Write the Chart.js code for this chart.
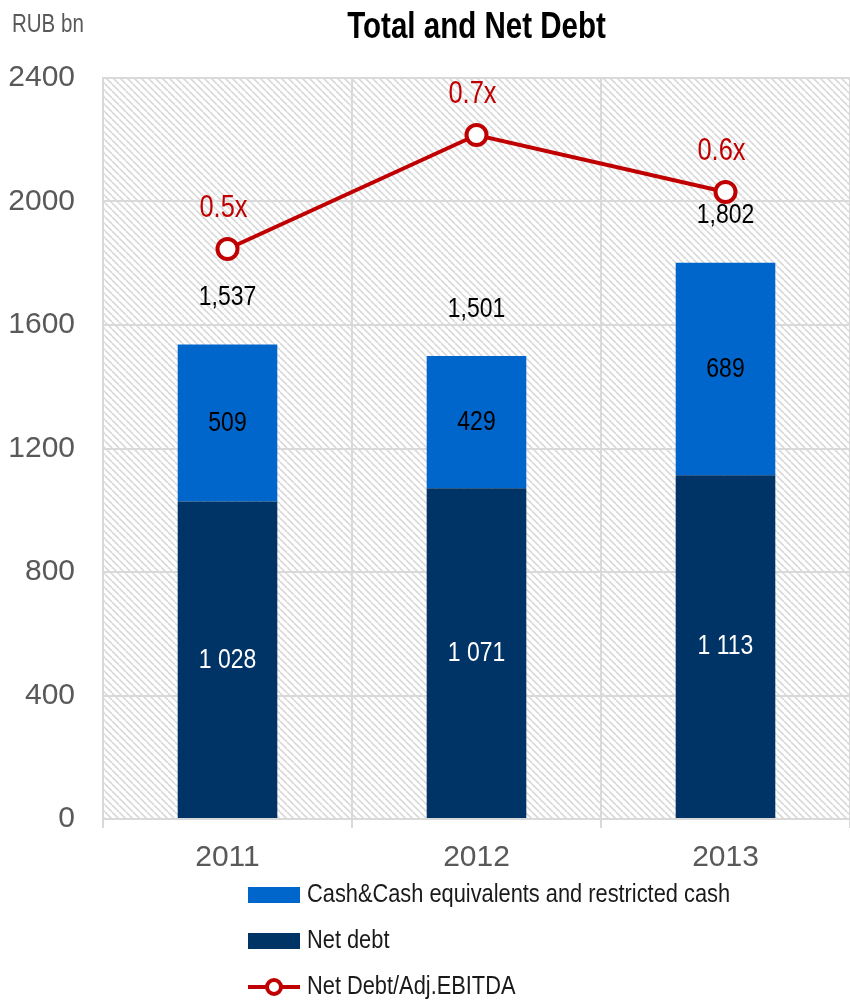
<!DOCTYPE html>
<html>
<head>
<meta charset="utf-8">
<script src="https://cdn.jsdelivr.net/npm/chart.js@4.4.0/dist/chart.umd.min.js"></script>
<style>
  body { margin: 0; background: #fff; }
  #wrap { width: 850px; height: 1000px; position: relative; }
</style>
</head>
<body>
<div id="wrap"><canvas id="grafica" width="850" height="1000"></canvas></div>
<script>
// Datos
const years = ["2011", "2012", "2013"];
const netDebt = [1028, 1071, 1113];
const cash = [509, 429, 689];
const totals = [1537, 1501, 1802];
const ratio = [0.5, 0.7, 0.6];
const yTicks = [0, 400, 800, 1200, 1600, 2000, 2400];

const FONT = "'Liberation Sans', Arial, sans-serif";
const RED = "#c00000";

// Texto estrecho (tipo Arial Narrow)
function texto(ctx, str, x, y, font, color, align) {
  ctx.save();
  ctx.translate(x, y);
  ctx.scale(0.82, 1);
  ctx.font = font;
  ctx.fillStyle = color;
  ctx.textAlign = align || "center";
  ctx.textBaseline = "middle";
  ctx.fillText(str, 0, 0);
  ctx.restore();
}

// Patrón rayado del fondo
function crearRayado() {
  const s = 7;
  const c = document.createElement("canvas");
  c.width = s; c.height = s;
  const g = c.getContext("2d");
  g.fillStyle = "#fff";
  g.fillRect(0, 0, s, s);
  g.strokeStyle = "#d9d9d9";
  g.lineWidth = 1.6;
  for (let k = -1; k <= 1; k++) {
    g.beginPath();
    g.moveTo(k * s, 0);
    g.lineTo(k * s + s, s);
    g.stroke();
  }
  return g.createPattern(c, "repeat");
}

const fondo = {
  id: "fondo",
  beforeDraw(chart) {
    const { ctx, chartArea: a } = chart;
    ctx.save();
    ctx.fillStyle = crearRayado();
    ctx.fillRect(a.left, a.top, a.right - a.left, a.bottom - a.top);
    ctx.restore();
  }
};

// Títulos y etiquetas
const etiquetas = {
  id: "etiquetas",
  afterDatasetsDraw(chart) {
    const { ctx, chartArea: a } = chart;
    const f = "28px " + FONT;

    chart.getDatasetMeta(1).data.forEach((el, i) => {
      const t = netDebt[i].toLocaleString("en-US").replace(",", " ");
      texto(ctx, t, el.x, (el.y + el.base) / 2, f, "#fff");
    });
    chart.getDatasetMeta(0).data.forEach((el, i) => {
      texto(ctx, String(cash[i]), el.x, (el.y + el.base) / 2, f, "#000");
      texto(ctx, totals[i].toLocaleString("en-US"), el.x, el.y - 47, f, "#000");
    });
    chart.getDatasetMeta(2).data.forEach((el, i) => {
      texto(ctx, ratio[i].toFixed(1) + "x", el.x - 4, el.y - 41, "31px " + FONT, RED);
    });

    texto(ctx, "Total and Net Debt", (a.left + a.right) / 2, 28, "bold 36px " + FONT, "#000");
    texto(ctx, "RUB bn", 12, 25, "25px " + FONT, "#595959", "left");
  },
  afterDraw(chart) {
    // Leyenda vertical
    const { ctx } = chart;
    const filas = [895, 941, 987];
    chart.data.datasets.forEach((d, i) => {
      const y = filas[i];
      ctx.save();
      if (d.type === "line") {
        ctx.strokeStyle = d.borderColor;
        ctx.lineWidth = 4;
        ctx.beginPath();
        ctx.moveTo(248, y);
        ctx.lineTo(300, y);
        ctx.stroke();
        ctx.beginPath();
        ctx.arc(274, y, 7, 0, Math.PI * 2);
        ctx.fillStyle = "#fff";
        ctx.fill();
        ctx.stroke();
      } else {
        ctx.fillStyle = d.backgroundColor;
        ctx.fillRect(248, y - 8, 52, 16);
      }
      ctx.restore();
      texto(ctx, d.label, 307, y, "26.6px " + FONT, "#1a1a1a", "left");
    });
  }
};

const ctx = document.getElementById("grafica").getContext("2d");
new Chart(ctx, {
  data: {
    labels: years,
    datasets: [
      {
        type: "bar",
        label: "Cash&Cash equivalents and restricted cash",
        data: cash,
        backgroundColor: "#0066cc",
        order: 2,
        barPercentage: 0.4,
        categoryPercentage: 1
      },
      {
        type: "bar",
        label: "Net debt",
        data: netDebt,
        backgroundColor: "#003366",
        order: 1,
        barPercentage: 0.4,
        categoryPercentage: 1
      },
      {
        type: "line",
        label: "Net Debt/Adj.EBITDA",
        data: ratio,
        yAxisID: "y2",
        borderColor: RED,
        borderWidth: 4,
        pointBackgroundColor: "#fff",
        pointBorderColor: RED,
        pointBorderWidth: 4,
        pointRadius: 10,
        order: 0
      }
    ]
  },
  options: {
    responsive: false,
    animation: false,
    layout: { autoPadding: false, padding: { top: 78, left: 0, right: 0, bottom: 0 } },
    plugins: {
      legend: { display: false },
      title: { display: false },
      tooltip: { enabled: false }
    },
    scales: {
      x: {
        stacked: true,
        offset: true,
        grid: { offset: true, color: "#d9d9d9", lineWidth: 2, tickLength: 9 },
        border: { color: "#d9d9d9", width: 2 },
        ticks: { color: "#595959", font: { family: FONT, size: 30 }, padding: 12 },
        afterFit: s => { s.height = 181; s.paddingLeft = 0; s.paddingRight = 0; }
      },
      y: {
        stacked: true,
        min: 0,
        max: 2400,
        afterBuildTicks: s => { s.ticks = yTicks.map(v => ({ value: v })); },
        grid: { color: "#d9d9d9", lineWidth: 2, drawTicks: false },
        border: { color: "#d9d9d9", width: 2 },
        ticks: {
          color: "#595959",
          font: { family: FONT, size: 30 },
          padding: 28,
          callback: v => String(v)
        },
        afterFit: s => { s.width = 103; }
      },
      y2: {
        display: false,
        min: -0.5,
        max: 0.8
      }
    }
  },
  plugins: [fondo, etiquetas]
});
</script>
</body>
</html>
